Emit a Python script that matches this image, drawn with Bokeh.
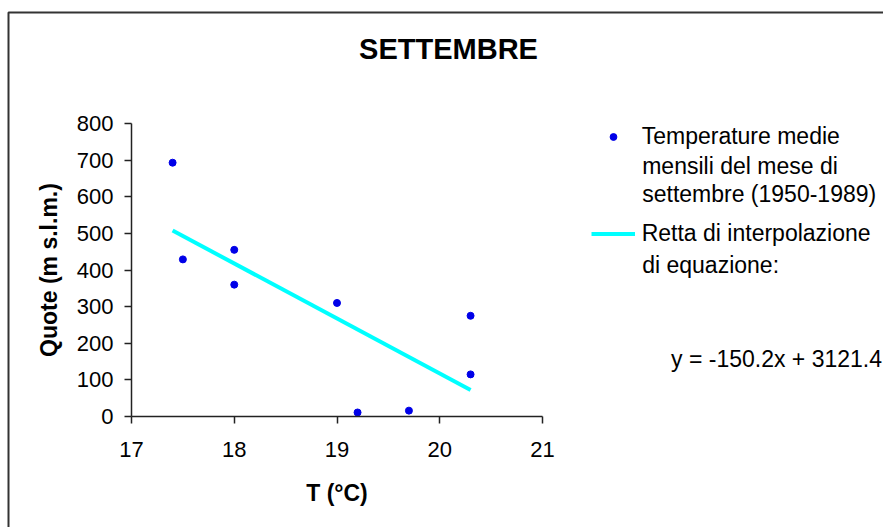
from bokeh.plotting import figure
from bokeh.models import (Range1d, FixedTicker, Label, Legend, LegendItem,
                          BoxAnnotation, ColumnDataSource)
from bokeh.embed import file_html
from bokeh.resources import INLINE

# ---- data ----
temps = [17.4, 17.5, 18.0, 18.0, 19.0, 19.2, 19.7, 20.3, 20.3]
quote = [693, 429, 455, 360, 310, 11, 16, 275, 115]
trend_x = [17.4, 20.3]
trend_y = [507.9, 72.3]          # y = -150.2x + 3121.4
x_ticks = [17, 18, 19, 20, 21]
y_ticks = [0, 100, 200, 300, 400, 500, 600, 700, 800]
title_text = "SETTEMBRE"
x_label = "T (°C)"
y_label = "Quote (m s.l.m.)"
legend_1 = ["Temperature medie", "mensili del mese di", "settembre (1950-1989)"]
legend_2 = ["Retta di interpolazione", "di equazione:"]
equation = "y = -150.2x + 3121.4"

FONT = "Liberation Sans"
W, H = 883, 527
# pixel placement of the data area (x: 17..21, y: 0..800)
PX0, PX1 = 131.0, 542.0
PY0, PY1 = 416.0, 123.0

def px_x(px):
    return 17 + (px - PX0) * 4.0 / (PX1 - PX0)

def px_y(py):
    return (PY0 - py) * 800.0 / (PY0 - PY1)

p = figure(width=W, height=H, output_backend="svg", toolbar_location=None,
           x_range=Range1d(px_x(0), px_x(W)), y_range=Range1d(px_y(H), px_y(0)),
           min_border=0)
p.background_fill_color = "white"
p.border_fill_color = "white"
p.outline_line_color = None
p.xgrid.visible = False
p.ygrid.visible = False

p.xaxis.fixed_location = 0
p.yaxis.fixed_location = 17
p.xaxis.bounds = (17, 21)
p.yaxis.bounds = (0, 800)

for ax, ticks in ((p.xaxis, x_ticks), (p.yaxis, y_ticks)):
    ax.ticker = FixedTicker(ticks=ticks)
    ax.axis_line_color = "#222222"
    ax.axis_line_width = 1.5
    ax.major_tick_line_color = "#222222"
    ax.major_tick_line_width = 1.5
    ax.major_tick_in = 0
    ax.major_tick_out = 7
    ax.minor_tick_line_color = None
    ax.major_label_text_font = FONT
    ax.major_label_text_font_size = "22px"
    ax.major_label_text_color = "black"
    ax.axis_label_text_font = FONT
    ax.axis_label_text_font_size = "23px"
    ax.axis_label_text_font_style = "bold"
    ax.axis_label_text_color = "black"

p.xaxis.axis_label = x_label
p.yaxis.axis_label = y_label
p.xaxis.major_label_standoff = 18
p.xaxis.axis_label_standoff = 20
p.yaxis.major_label_standoff = 11
p.yaxis.axis_label_standoff = 12

src = ColumnDataSource(dict(x=temps, y=quote))
r_pts = p.scatter("x", "y", source=src, size=7, fill_color="#0000e8",
                  line_color="#0000e8")
r_line = p.line(trend_x, trend_y, line_color="#00ffff", line_width=4)

legend = Legend(items=[LegendItem(label=legend_1[0], renderers=[r_pts]),
                       LegendItem(label=legend_2[0], renderers=[r_line])],
                location=(590.7, H - 247.5),
                orientation="vertical")
legend.glyph_width = 44
legend.glyph_height = 17
legend.label_height = 28
legend.label_standoff = 7
legend.spacing = 69
legend.padding = 0
legend.margin = 0
legend.border_line_color = None
legend.background_fill_alpha = 0
legend.label_text_font = FONT
legend.label_text_font_size = "23px"
legend.label_text_color = "black"
p.add_layout(legend)

text_x = px_x(641.7)
for txt, py in ((legend_1[1], 165), (legend_1[2], 193.5), (legend_2[1], 264)):
    p.add_layout(Label(x=text_x, y=px_y(py), text=txt, text_font=FONT,
                       text_font_size="23px", text_baseline="middle",
                       text_color="black"))

p.add_layout(Label(x=px_x(881.5), y=px_y(358), text=equation, text_font=FONT,
                   text_font_size="23px", text_baseline="middle",
                   text_align="right", text_color="black"))

p.add_layout(Label(x=px_x(448), y=px_y(48), text=title_text, text_font=FONT,
                   text_font_size="29px", text_font_style="bold",
                   text_align="center", text_baseline="middle",
                   text_color="black"))

p.add_layout(BoxAnnotation(left=px_x(8), right=px_x(W + 20), top=px_y(12),
                           bottom=px_y(H + 20), fill_color=None,
                           line_color="#333333", line_alpha=1.0, line_width=2))

open("out.html", "w").write(file_html(p, INLINE))
